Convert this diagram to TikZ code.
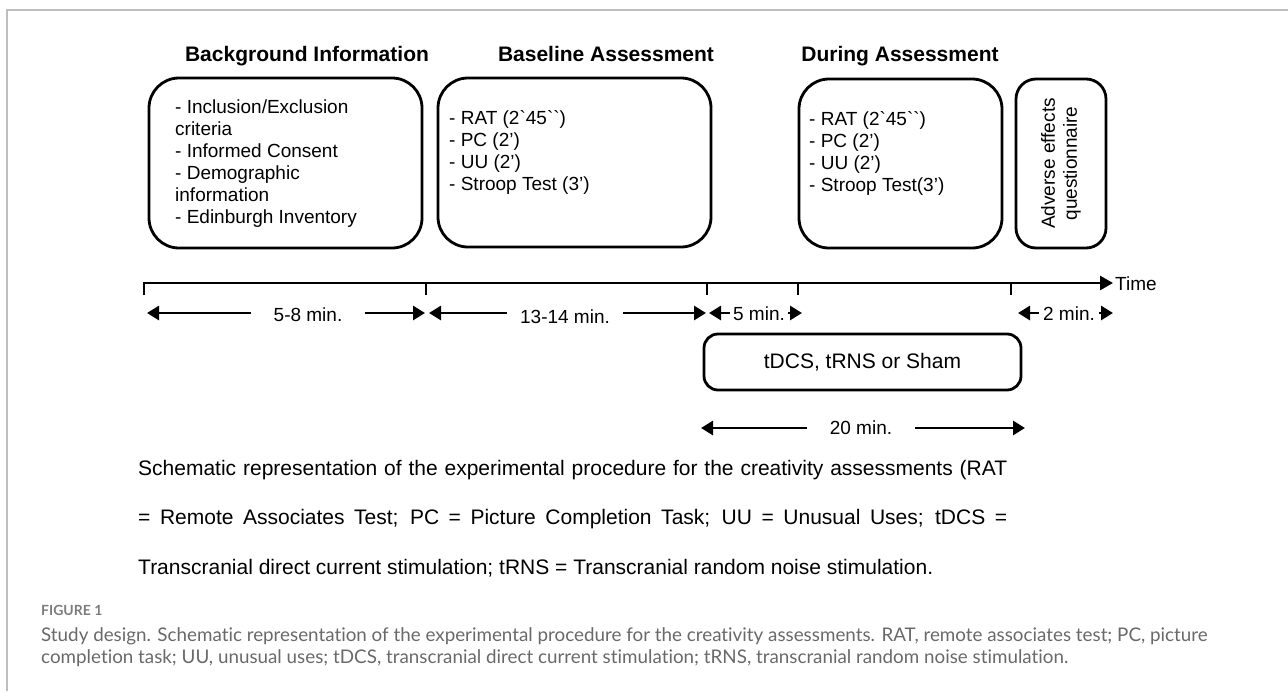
\documentclass[tikz,border=0pt]{standalone}
\usepackage{fontspec}
\setmainfont{Liberation Sans}[Ligatures = TeXOff]
\newfontfamily\capfont{Lato}[Ligatures = CommonOff]
\usepackage{tikz}
\usetikzlibrary{arrows.meta}
\definecolor{framegray}{RGB}{190, 190, 190}
\definecolor{capgray}{RGB}{105, 105, 105}
\definecolor{figgray}{RGB}{125, 125, 125}

\begin{document}
\begin{tikzpicture}[x = 1pt, y = -1pt,
	phase/.style = {draw, line width = 2.8pt, rounded corners = 30pt},
	phasehead/.style = {anchor = base, inner sep = 0pt, font = \fontsize{21}{25}\selectfont\bfseries},
	boxtext/.style = {anchor = west, align = left, inner sep = 0pt, font = \fontsize{19}{22}\selectfont},
	lbl/.style = {font = \fontsize{19}{22}\selectfont},
	note/.style = {anchor = west, inner sep = 0pt, font = \fontsize{21}{25}\selectfont},
	dimarrow/.style = {line width = 2.8pt, -{Triangle[length = 12pt, width = 14pt]}},
	tickmark/.style = {line width = 2.8pt}]
			\useasboundingbox (0,0) rectangle (1288,691);
			\draw[framegray, line width = 1.5pt] (7,691) -- (7,10) -- (1288,10);
			% phases
			\node (bghead) at (307,61) [phasehead] {Background Information};
			\node (blhead) at (606,61) [phasehead] {Baseline Assessment};
			\node (drhead) at (900,61) [phasehead] {During Assessment};
			\node (bg) at (285.5,163) [phase, minimum width = 273pt, minimum height = 170pt] {};
			\node (bl) at (574.5,162.5) [phase, minimum width = 273pt, minimum height = 169pt] {};
			\node (dr) at (900.5,163.5) [phase, minimum width = 203pt, minimum height = 169pt] {};
			\node (adv) at (1061,163.5) [phase, rounded corners = 20pt, rotate = 90, minimum width = 169pt, minimum height = 90pt, align = center, lbl] {Adverse effects\\questionnaire};
			\node (bgtxt) at (175,164) [boxtext] {- Inclusion/Exclusion\\criteria\\- Informed Consent\\- Demographic\\information\\- Edinburgh Inventory};
			\node (bltxt) at (449,152) [boxtext] {- RAT (2`45``)\\- PC (2’)\\- UU (2’)\\- Stroop Test (3’)};
			\node (drtxt) at (809,153) [boxtext] {- RAT (2`45``)\\- PC (2’)\\- UU (2’)\\- Stroop Test(3’)};
			% time line
			\coordinate (t0) at (144,283);
			\coordinate (t0b) at (144,295);
			\coordinate (t1) at (426,283);
			\coordinate (t2) at (707,283);
			\coordinate (t3) at (798,283);
			\coordinate (t4) at (1011,283);
			\coordinate (tend) at (1113,283);
			\draw[tickmark, -{Triangle[length = 13pt, width = 14pt]}] (t0b) -- (t0) -- (tend);
			\draw[tickmark] (t1) -- ++(0,12);
			\draw[tickmark] (t2) -- ++(0,12);
			\draw[tickmark] (t3) -- ++(0,12);
			\draw[tickmark] (t4) -- ++(0,12);
			\node (time) at (1115,284) [lbl, anchor = west, inner sep = 0pt] {Time};
			% durations
			\node (d58) at (308,315) [lbl, inner xsep = 22pt] {5-8 min.};
			\coordinate (d58l) at (147,313);
			\coordinate (d58r) at (425,313);
			\draw[dimarrow] (d58.west |- d58l) -- (d58l);
			\draw[dimarrow] (d58.east |- d58r) -- (d58r);
			\node (d1314) at (565,317) [lbl, inner xsep = 13pt] {13-14 min.};
			\coordinate (d1314l) at (429,313);
			\coordinate (d1314r) at (706,313);
			\draw[dimarrow] (d1314.west |- d1314l) -- (d1314l);
			\draw[dimarrow] (d1314.east |- d1314r) -- (d1314r);
			\node (d5) at (759,314) [lbl, inner xsep = 3pt] {5 min.};
			\coordinate (d5l) at (709,313);
			\coordinate (d5r) at (802,313);
			\draw[dimarrow] (d5.west |- d5l) -- (d5l);
			\draw[dimarrow] (d5.east |- d5r) -- (d5r);
			\node (d2) at (1069,314) [lbl, inner xsep = 4pt] {2 min.};
			\coordinate (d2l) at (1018,313);
			\coordinate (d2r) at (1113,313);
			\draw[dimarrow] (d2.west |- d2l) -- (d2l);
			\draw[dimarrow] (d2.east |- d2r) -- (d2r);
			% stimulation
			\node (stim) at (862.5,362) [phase, rounded corners = 14pt, minimum width = 317pt, minimum height = 56pt, font = \fontsize{21}{25}\selectfont] {tDCS, tRNS or Sham};
			\node (d20) at (861,428) [lbl, inner xsep = 23pt] {20 min.};
			\coordinate (d20l) at (701,428);
			\coordinate (d20r) at (1025,428);
			\draw[dimarrow] (d20) -- (d20l);
			\draw[dimarrow] (d20) -- (d20r);
			% notes
			\node (note1) at (138,470) [note] {\makebox[869pt][s]{Schematic representation of the experimental procedure for the creativity assessments (RAT}};
			\node (note2) at (138,519) [note] {\makebox[869pt][s]{= Remote Associates Test; PC = Picture Completion Task; UU = Unusual Uses; tDCS =}};
			\node (note3) at (138,568) [note] {Transcranial direct current stimulation; tRNS = Transcranial random noise stimulation.};
			\node (figno) at (41,610) [anchor = west, inner sep = 0pt, text = figgray, font = \capfont\bfseries\fontsize{14}{17}\selectfont] {FIGURE 1};
			\node (figcap) at (41,647) [anchor = west, inner sep = 0pt, align = left, text = capgray, font = \capfont\fontsize{18.8}{22.5}\selectfont] {Study design. Schematic representation of the experimental procedure for the creativity assessments. RAT, remote associates test; PC, picture\\completion task; UU, unusual uses; tDCS, transcranial direct current stimulation; tRNS, transcranial random noise stimulation.};
			\end{tikzpicture}
\end{document}
